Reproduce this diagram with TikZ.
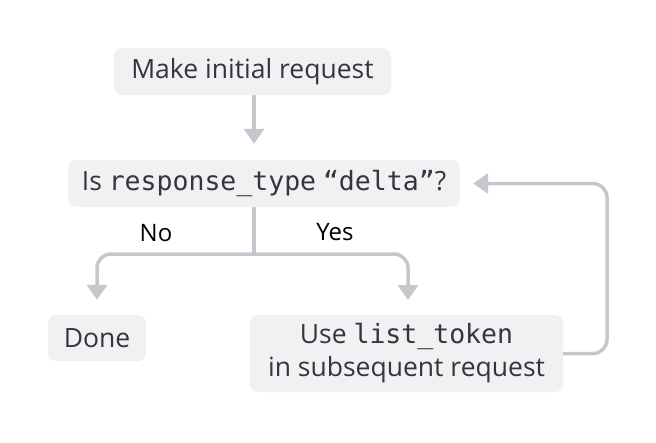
\documentclass[tikz,border=0pt]{standalone}
\usepackage{fontspec}
\setmainfont{Open Sans}
\newfontfamily\codefont{DejaVu Sans Mono}
\newcommand{\code}[1]{{\fontsize{26.5}{33}\selectfont\codefont #1}}
\usetikzlibrary{arrows.meta}
\definecolor{boxfill}{HTML}{F0F1F3}
\definecolor{boxtext}{HTML}{35353B}
\definecolor{linecolor}{HTML}{C6C7CD}
\tikzset{
  stepbox/.style={fill=boxfill, text=boxtext, rounded corners=8pt, inner sep=0pt, font=\fontsize{26.5}{33}\selectfont, align=center},
  flow/.style={draw=linecolor, line width=3.5pt, rounded corners=14pt, -{Triangle[width=20pt,length=15pt]}},
  branch/.style={font=\fontsize{24}{28}\selectfont, text=black}
}
\begin{document}
\begin{tikzpicture}[x=1pt,y=-1pt]
\useasboundingbox (0,0) rectangle (656,442);
\node[stepbox, minimum width=277pt, minimum height=47pt] (init) at (252.5,71.5) {Make initial request};
\node[stepbox, minimum width=392pt, minimum height=47pt] (check) at (264,183.5) {Is \code{response\_type} \code{“delta”}?};
\node[stepbox, minimum width=98pt, minimum height=46pt] (done) at (97,338) {Done};
\node[stepbox, minimum width=313pt, minimum height=77pt] (uselist) at (406.5,353.5) {Use \code{list\_token}\\in subsequent request};
\coordinate (split) at (254,254);
\node[branch] (no) at (156,233) {No};
\node[branch] (yes) at (335,232) {Yes};
\draw[flow, shorten >=16pt] (init.south -| split) -- (check.north -| split);
\draw[draw=linecolor, line width=3.5pt] (check.south -| split) -- (split);
\draw[flow, shorten >=15pt] (split) -| (done.north);
\draw[flow, shorten >=15pt] (split) -| (408,315);
\draw[flow, shorten >=13pt] (uselist.east) -- (607,353.5) |- (check.east);
\end{tikzpicture}
\end{document}
